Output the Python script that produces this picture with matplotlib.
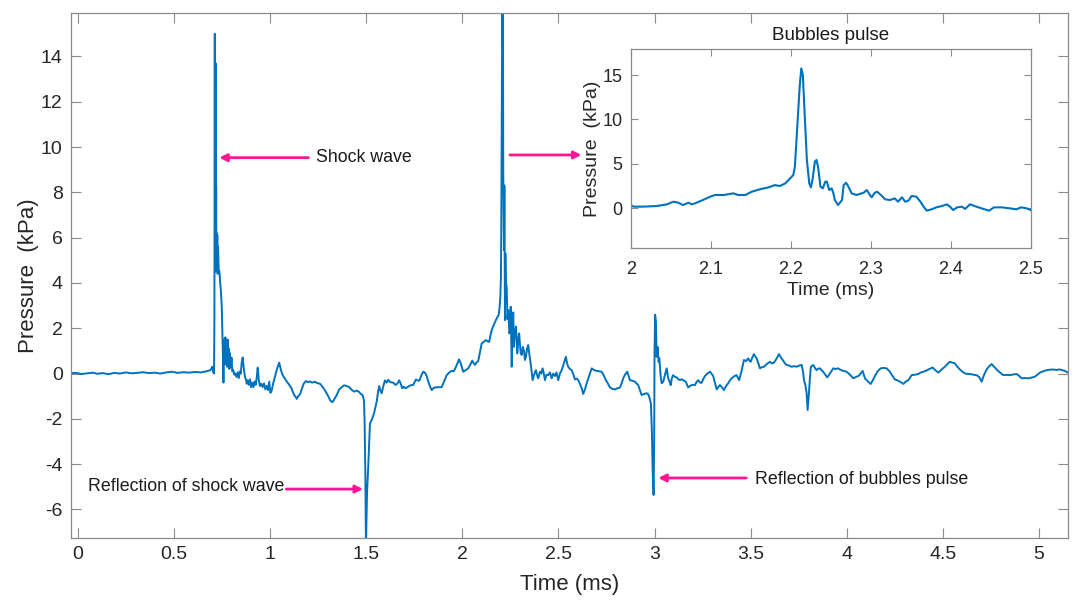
import matplotlib
matplotlib.use("Agg")
import matplotlib.pyplot as plt

plt.rcParams['font.family'] = ['Liberation Sans', 'DejaVu Sans']
plt.rcParams['axes.unicode_minus'] = False

# ---------------- data ----------------
main_time = [
    -0.035, -0.01, 0.02, 0.05, 0.08, 0.10, 0.13, 0.16, 0.19, 0.22, 0.25, 0.28, 0.31, 0.34,
    0.37, 0.40, 0.43, 0.46, 0.49, 0.52, 0.55, 0.58, 0.61, 0.64, 0.67, 0.69, 0.700, 0.705,
    0.709, 0.711, 0.713, 0.714, 0.715, 0.716, 0.717, 0.7185, 0.720, 0.721, 0.722, 0.724,
    0.726, 0.728, 0.730, 0.733, 0.737, 0.741, 0.745, 0.749, 0.752, 0.755, 0.758, 0.761,
    0.765, 0.768, 0.771, 0.774, 0.777, 0.780, 0.783, 0.786, 0.789, 0.792, 0.796, 0.800,
    0.804, 0.809, 0.814, 0.820, 0.826, 0.832, 0.838, 0.843, 0.848, 0.853, 0.858, 0.864,
    0.870, 0.875, 0.879, 0.884, 0.890, 0.896, 0.902, 0.908, 0.914, 0.920, 0.926, 0.932,
    0.936, 0.942, 0.948, 0.955, 0.962, 0.969, 0.976, 0.983, 0.990, 0.996, 1.002, 1.009,
    1.016, 1.026, 1.036, 1.048, 1.057, 1.066, 1.076, 1.087, 1.096, 1.104, 1.112, 1.118,
    1.126, 1.133, 1.139, 1.147, 1.156, 1.165, 1.175, 1.187, 1.198, 1.208, 1.220, 1.234,
    1.245, 1.260, 1.275, 1.290, 1.303, 1.314, 1.326, 1.337, 1.347, 1.360, 1.373, 1.385,
    1.399, 1.412, 1.425, 1.438, 1.451, 1.462, 1.472, 1.482, 1.489, 1.492, 1.496, 1.499,
    1.502, 1.505, 1.511, 1.516, 1.520, 1.526, 1.532, 1.541, 1.548, 1.555, 1.562, 1.568,
    1.574, 1.581, 1.588, 1.598, 1.607, 1.615, 1.625, 1.641, 1.652, 1.662, 1.672, 1.680,
    1.688, 1.695, 1.705, 1.719, 1.730, 1.745, 1.759, 1.766, 1.776, 1.789, 1.797, 1.806,
    1.815, 1.823, 1.834, 1.841, 1.853, 1.867, 1.880, 1.893, 1.905, 1.919, 1.933, 1.945,
    1.955, 1.962, 1.975, 1.983, 1.992, 2.005, 2.018, 2.031, 2.042, 2.052, 2.060, 2.066,
    2.075, 2.083, 2.092, 2.101, 2.112, 2.123, 2.132, 2.140, 2.147, 2.153, 2.164, 2.175,
    2.183, 2.189, 2.194, 2.198, 2.201, 2.203, 2.206, 2.208, 2.210, 2.2115, 2.213, 2.215,
    2.217, 2.219, 2.222, 2.224, 2.227, 2.231, 2.235, 2.239, 2.245, 2.248, 2.252, 2.257,
    2.262, 2.265, 2.269, 2.274, 2.279, 2.283, 2.286, 2.291, 2.296, 2.300, 2.304, 2.309,
    2.315, 2.321, 2.326, 2.331, 2.337, 2.343, 2.348, 2.352, 2.358, 2.366, 2.374, 2.383,
    2.390, 2.395, 2.404, 2.411, 2.418, 2.424, 2.430, 2.438, 2.447, 2.456, 2.465, 2.473,
    2.482, 2.490, 2.499, 2.508, 2.517, 2.528, 2.539, 2.545, 2.551, 2.560, 2.569, 2.578,
    2.586, 2.595, 2.603, 2.612, 2.621, 2.629, 2.638, 2.647, 2.660, 2.673, 2.686, 2.699,
    2.712, 2.725, 2.737, 2.747, 2.758, 2.768, 2.781, 2.794, 2.807, 2.820, 2.830, 2.837,
    2.846, 2.858, 2.865, 2.872, 2.885, 2.898, 2.908, 2.915, 2.925, 2.933, 2.946, 2.959,
    2.966, 2.972, 2.981, 2.986, 2.990, 2.995, 2.998, 3.000, 3.003, 3.007, 3.011, 3.016,
    3.021, 3.025, 3.032, 3.037, 3.045, 3.054, 3.063, 3.071, 3.078, 3.084, 3.090, 3.097,
    3.106, 3.115, 3.124, 3.132, 3.140, 3.149, 3.156, 3.163, 3.169, 3.175, 3.184, 3.193,
    3.201, 3.210, 3.218, 3.227, 3.236, 3.245, 3.253, 3.262, 3.275, 3.288, 3.296, 3.305,
    3.314, 3.323, 3.331, 3.340, 3.350, 3.361, 3.372, 3.383, 3.392, 3.401, 3.414, 3.427,
    3.434, 3.440, 3.452, 3.465, 3.476, 3.487, 3.495, 3.500, 3.508, 3.517, 3.524, 3.531,
    3.540, 3.548, 3.558, 3.569, 3.584, 3.600, 3.610, 3.621, 3.634, 3.647, 3.658, 3.669,
    3.678, 3.687, 3.700, 3.713, 3.726, 3.739, 3.752, 3.765, 3.772, 3.777, 3.784, 3.791,
    3.796, 3.800, 3.803, 3.808, 3.813, 3.825, 3.834, 3.843, 3.852, 3.860, 3.868, 3.877,
    3.888, 3.898, 3.910, 3.920, 3.929, 3.942, 3.955, 3.964, 3.980, 3.999, 4.016, 4.034,
    4.047, 4.060, 4.072, 4.082, 4.088, 4.094, 4.110, 4.124, 4.135, 4.146, 4.160, 4.176,
    4.192, 4.207, 4.224, 4.237, 4.250, 4.263, 4.276, 4.285, 4.294, 4.307, 4.320, 4.337,
    4.355, 4.372, 4.385, 4.398, 4.411, 4.424, 4.435, 4.446, 4.460, 4.476, 4.493, 4.510,
    4.523, 4.536, 4.549, 4.562, 4.575, 4.588, 4.601, 4.614, 4.627, 4.640, 4.658, 4.675,
    4.688, 4.701, 4.714, 4.727, 4.740, 4.753, 4.766, 4.779, 4.796, 4.813, 4.830, 4.848,
    4.866, 4.883, 4.896, 4.909, 4.926, 4.943, 4.960, 4.978, 4.991, 5.004, 5.021, 5.039,
    5.056, 5.073, 5.090, 5.108, 5.121, 5.134, 5.150,
]
main_pressure = [
    0.02, 0.03, -0.02, 0.01, 0.04, -0.01, 0.02, -0.03, 0.03, 0.0, 0.05, 0.01, 0.03, 0.06,
    0.02, 0.04, 0.0, 0.05, 0.08, 0.03, 0.06, 0.04, 0.07, 0.05, 0.10, 0.15, 0.30, 0.05,
    0.0, 2.5, 15.0, 5.5, 9.4, 4.6, 13.7, 4.5, 8.3, 4.8, 6.2, 4.7,
    6.1, 4.4, 5.6, 4.6, 4.5, 4.0, 3.6, 3.0, 2.0, 0.9, -0.4, 1.5,
    0.4, 1.6, 0.5, 1.3, 0.3, 1.5, 0.4, 1.1, 0.2, 0.9, 0.3, 0.7,
    0.1, 0.15, -0.05, 0.0, -0.15, 0.05, -0.2, 0.1, 0.0, 0.5, 0.71, 0.2,
    -0.15, -0.25, -0.45, -0.3, -0.5, -0.25, -0.6, -0.4, -0.6, -0.35, -0.5, -0.1,
    0.26, -0.3, -0.55, -0.45, -0.6, -0.43, -0.7, -0.55, -0.73, -0.36, -0.85, -0.75,
    -0.45, -0.14, 0.2, 0.48, 0.15, -0.07, -0.2, -0.35, -0.45, -0.55, -0.65, -0.8,
    -0.95, -1.02, -1.12, -1.0, -0.92, -0.7, -0.45, -0.33, -0.38, -0.35, -0.4, -0.36,
    -0.42, -0.45, -0.6, -0.8, -1.0, -1.2, -1.26, -1.1, -0.95, -0.7, -0.6, -0.52,
    -0.55, -0.6, -0.72, -0.8, -0.75, -0.8, -0.9, -0.95, -1.2, -2.1, -4.5, -7.6,
    -6.5, -5.2, -4.1, -3.0, -2.2, -2.1, -1.98, -1.76, -1.5, -1.24, -0.8, -0.55,
    -0.75, -0.87, -0.6, -0.3, -0.4, -0.28, -0.38, -0.4, -0.5, -0.45, -0.3, -0.45,
    -0.65, -0.58, -0.65, -0.58, -0.52, -0.5, -0.26, -0.3, -0.32, -0.05, 0.08, 0.04,
    -0.11, -0.35, -0.6, -0.73, -0.62, -0.61, -0.6, -0.6, -0.35, -0.07, 0.05, 0.12,
    0.1, 0.2, 0.45, 0.63, 0.45, 0.08, 0.15, 0.23, 0.4, 0.57, 0.45, 0.38,
    0.5, 0.55, 0.95, 1.33, 1.4, 1.48, 1.42, 1.4, 1.7, 1.92, 2.15, 2.36,
    2.5, 2.58, 2.9, 3.4, 4.2, 6.5, 12.0, 16.5, 14.5, 16.5, 9.1, 7.0,
    5.45, 8.3, 2.36, 5.3, 4.0, 3.83, 2.4, 2.8, 1.77, 1.9, 2.95, 0.30,
    2.07, 2.7, 1.18, 1.77, 2.07, 1.6, 0.89, 1.4, 1.77, 1.3, 0.9, 0.82,
    1.18, 1.0, 0.6, 0.74, 1.1, 1.26, 0.9, 0.67, 0.3, -0.29, -0.05, 0.15,
    -0.1, -0.21, 0.08, 0.0, 0.23, 0.0, -0.29, -0.05, -0.07, 0.05, -0.21, 0.0,
    -0.11, 0.05, -0.29, 0.0, 0.15, 0.45, 0.74, 0.45, 0.30, 0.2, 0.15, -0.05,
    -0.26, -0.22, -0.29, -0.45, -0.65, -0.9, -0.7, -0.43, -0.1, 0.23, 0.15, 0.12,
    0.1, 0.08, -0.1, -0.29, -0.45, -0.61, -0.68, -0.70, -0.65, -0.62, -0.4, -0.21,
    -0.05, 0.08, -0.1, -0.29, -0.32, -0.36, -0.45, -0.51, -0.75, -0.95, -0.9, -0.87,
    -0.9, -1.02, -1.32, -2.5, -4.2, -5.36, -3.0, 1.0, 2.6, 2.3, 0.74, 1.18,
    0.52, 0.67, -0.14, -0.43, -0.36, -0.07, 0.23, -0.21, -0.35, -0.51, -0.2, -0.07,
    -0.15, -0.17, -0.25, -0.29, -0.25, -0.29, -0.33, -0.36, -0.5, -0.61, -0.55, -0.51,
    -0.5, -0.51, -0.38, -0.29, -0.4, -0.41, -0.25, -0.11, 0.0, 0.08, 0.0, -0.11,
    -0.4, -0.70, -0.6, -0.51, -0.6, -0.73, -0.55, -0.43, -0.3, -0.21, -0.12, -0.07,
    -0.2, -0.29, 0.1, 0.60, 0.55, 0.67, 0.55, 0.52, 0.7, 0.86, 0.75, 0.67,
    0.45, 0.23, 0.28, 0.30, 0.42, 0.52, 0.45, 0.48, 0.65, 0.86, 0.7, 0.57,
    0.45, 0.38, 0.35, 0.30, 0.33, 0.30, 0.35, 0.38, 0.1, -0.29, -0.5, -0.87,
    -1.61, -1.2, -0.87, -0.2, 0.30, 0.38, 0.25, 0.15, 0.22, 0.23, 0.15, 0.08,
    -0.05, -0.17, -0.02, 0.1, 0.23, 0.2, 0.23, 0.18, 0.12, 0.08, -0.05, -0.21,
    -0.15, -0.11, 0.0, 0.12, -0.05, -0.21, -0.35, -0.46, -0.3, -0.11, 0.1, 0.23,
    0.25, 0.23, 0.08, -0.1, -0.26, -0.3, -0.36, -0.4, -0.46, -0.35, -0.29, -0.07,
    -0.05, -0.02, 0.05, 0.08, 0.12, 0.18, 0.22, 0.27, 0.15, 0.04, 0.18, 0.30,
    0.42, 0.52, 0.48, 0.45, 0.3, 0.18, 0.08, 0.01, -0.02, -0.02, -0.05, -0.07,
    -0.15, -0.36, -0.05, 0.18, 0.32, 0.42, 0.3, 0.18, 0.05, -0.07, -0.06, -0.07,
    -0.04, -0.02, -0.1, -0.21, -0.2, -0.21, -0.18, -0.14, -0.05, 0.04, 0.1, 0.15,
    0.17, 0.18, 0.16, 0.18, 0.15, 0.12, 0.04,
]

inset_time = [
    2.000, 2.003, 2.015, 2.032, 2.045, 2.053, 2.059, 2.065, 2.072, 2.076, 2.080, 2.090,
    2.099, 2.105, 2.116, 2.128, 2.134, 2.143, 2.151, 2.161, 2.172, 2.180, 2.186, 2.193,
    2.199, 2.203, 2.205, 2.208, 2.211, 2.213, 2.215, 2.217, 2.220, 2.223, 2.225, 2.227,
    2.230, 2.232, 2.234, 2.237, 2.240, 2.243, 2.245, 2.248, 2.251, 2.253, 2.255, 2.259,
    2.264, 2.266, 2.269, 2.272, 2.276, 2.282, 2.291, 2.295, 2.299, 2.301, 2.305, 2.308,
    2.314, 2.318, 2.324, 2.330, 2.334, 2.339, 2.343, 2.347, 2.351, 2.357, 2.362, 2.366,
    2.370, 2.376, 2.382, 2.389, 2.395, 2.399, 2.403, 2.408, 2.414, 2.418, 2.424, 2.432,
    2.441, 2.448, 2.454, 2.464, 2.474, 2.482, 2.488, 2.495, 2.500,
]
inset_pressure = [
    0.37, 0.19, 0.19, 0.26, 0.45, 0.75, 0.64, 0.37, 0.64, 0.45, 0.56, 0.94,
    1.31, 1.50, 1.50, 1.69, 1.50, 1.50, 1.87, 2.14, 2.36, 2.62, 2.51, 2.81,
    3.37, 3.75, 4.69, 9.19, 13.69, 15.75, 15.0, 11.06, 5.44, 2.81, 2.36, 3.19,
    5.25, 5.44, 4.69, 2.44, 2.25, 3.0, 3.0, 2.06, 2.25, 1.76, 0.94, 0.37,
    0.94, 2.62, 2.89, 2.44, 1.69, 1.50, 1.76, 2.06, 1.50, 1.24, 1.76, 1.87,
    1.39, 1.01, 0.94, 1.12, 0.75, 1.24, 0.75, 0.86, 1.39, 1.31, 0.75, 0.19,
    -0.26, -0.11, 0.11, 0.26, 0.45, 0.19, -0.19, 0.11, 0.19, -0.07, 0.45, 0.19,
    -0.07, -0.26, 0.11, 0.11, 0.0, -0.11, 0.11, 0.0, -0.19,
]

main_xticks = [0, 0.5, 1, 1.5, 2, 2.5, 3, 3.5, 4, 4.5, 5]
main_xticklabels = ['0', '0.5', '1', '1.5', '2', '2.5', '3', '3.5', '4', '4.5', '5']
main_yticks = [-6, -4, -2, 0, 2, 4, 6, 8, 10, 12, 14]
inset_xticks = [2, 2.1, 2.2, 2.3, 2.4, 2.5]
inset_xticklabels = ['2', '2.1', '2.2', '2.3', '2.4', '2.5']
inset_yticks = [0, 5, 10, 15]

annotation_texts = ['Shock wave', 'Reflection of shock wave', 'Reflection of bubbles pulse']

# ---------------- styling ----------------
LINE = '#0072BD'
SPINE = '#8a8a8a'
TXT = '#262626'
ARROW = '#FF1493'

fig = plt.figure(figsize=(10.77, 6.02), dpi=100)
ax = fig.add_axes([0.0659, 0.1063, 0.9257, 0.8726])
ax.plot(main_time, main_pressure, color=LINE, lw=1.4, solid_joinstyle='round')
ax.set_xlim(-0.035, 5.15)
ax.set_ylim(-7.26, 15.93)
ax.set_xticks(main_xticks)
ax.set_xticklabels(main_xticklabels)
ax.set_yticks(main_yticks)
ax.tick_params(direction='in', length=7, width=0.8, color=SPINE, labelcolor=TXT,
               labelsize=14, top=True, right=True, pad=6)
for s in ax.spines.values():
    s.set_color(SPINE)
    s.set_linewidth(0.9)
ax.set_xlabel('Time (ms)', fontsize=16, color=TXT, labelpad=8)
ax.set_ylabel('Pressure  (kPa)', fontsize=16, color=TXT, labelpad=1)

aprops = dict(arrowstyle='-|>', color=ARROW, lw=2.0, mutation_scale=11,
              shrinkA=0, shrinkB=0)
ax.annotate('', xy=(0.736, 9.53), xytext=(1.20, 9.53), arrowprops=aprops)
ax.text(1.241, 9.53, annotation_texts[0], fontsize=12.8, color='#1a1a1a',
        va='center', ha='left')
ax.annotate('', xy=(2.62, 9.65), xytext=(2.248, 9.65), arrowprops=aprops)
ax.annotate('', xy=(1.484, -5.10), xytext=(1.085, -5.10), arrowprops=aprops)
ax.text(1.076, -5.0, annotation_texts[1], fontsize=12.8, color='#1a1a1a',
        va='center', ha='right')
ax.annotate('', xy=(3.019, -4.61), xytext=(3.477, -4.61), arrowprops=aprops)
ax.text(3.52, -4.67, annotation_texts[2], fontsize=12.8, color='#1a1a1a',
        va='center', ha='left')

# ---------------- inset ----------------
ins = fig.add_axes([0.5859, 0.5875, 0.3711, 0.3306])
ins.set_facecolor('white')
ins.plot(inset_time, inset_pressure, color=LINE, lw=1.5)
ins.set_xlim(2.0, 2.5)
ins.set_ylim(-4.5, 17.9)
ins.set_xticks(inset_xticks)
ins.set_xticklabels(inset_xticklabels)
ins.set_yticks(inset_yticks)
ins.tick_params(direction='in', length=5, width=0.8, color=SPINE, labelcolor=TXT,
                labelsize=13, top=True, right=True, pad=6)
ins.tick_params(axis='x', pad=9)
for s in ins.spines.values():
    s.set_color(SPINE)
    s.set_linewidth(0.9)
ins.set_title('Bubbles pulse', fontsize=13.5, color='#1a1a1a', pad=7)
ins.set_xlabel('Time (ms)', fontsize=14, color=TXT, labelpad=3)
ins.set_ylabel('Pressure  (kPa)', fontsize=14, color=TXT, labelpad=1)

fig.savefig('out.png', dpi=100)
